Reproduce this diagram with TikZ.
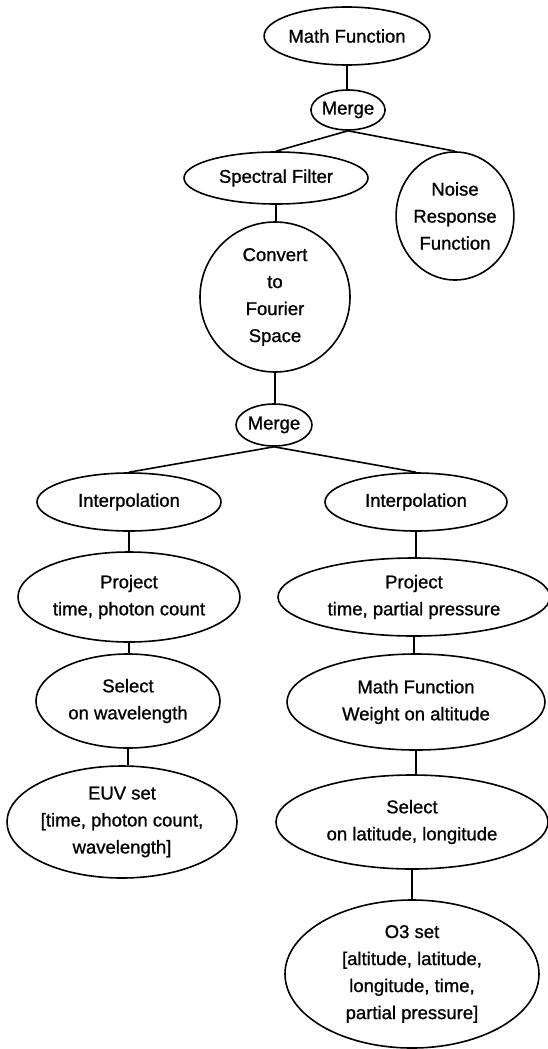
\documentclass[tikz,border=0pt]{standalone}
\usepackage{fontspec}
\setmainfont{Liberation Sans}
\newfontfamily\nodefont[FakeBold=1.0]{Liberation Sans}
\usetikzlibrary{shapes.geometric}
\begin{document}
\begin{tikzpicture}[x=1pt,y=-1pt,
  op/.style={draw, ellipse, inner sep=0pt, line width=1.6pt, align=center,
    font=\nodefont\fontsize{18.5}{27}\selectfont},
  link/.style={line width=1.6pt}]
\useasboundingbox (0,0) rectangle (547,1049);
\node[op, minimum width=164, minimum height=58] (mf1) at (347,36) {Math Function};
\node[op, minimum width=74, minimum height=40] (merge1) at (348,110) {Merge};
\node[op, minimum width=184, minimum height=52] (spec) at (276,178) {Spectral Filter};
\node[op, minimum width=112, minimum height=128] (noise) at (455,216) {Noise\\Response\\Function};
\node[op, minimum width=150, minimum height=150] (conv) at (275,297) {Convert\\to\\Fourier\\Space};
\node[op, minimum width=76, minimum height=42] (merge2) at (274,425) {Merge};
\node[op, minimum width=184, minimum height=58] (interpL) at (129,502) {Interpolation};
\node[op, minimum width=182, minimum height=58] (interpR) at (416,502) {Interpolation};
\node[op, minimum width=222, minimum height=90] (projL) at (129,597) {Project\\time, photon count};
\node[op, minimum width=272, minimum height=78] (projR) at (414,597) {Project\\time, partial pressure};
\node[op, minimum width=184, minimum height=94] (selL) at (128,701) {Select\\on wavelength};
\node[op, minimum width=258, minimum height=96] (mf2) at (416,702) {Math Function\\Weight on altitude};
\node[op, minimum width=230, minimum height=112] (euv) at (122,822) {EUV set\\{[time, photon count,}\\wavelength]};
\node[op, minimum width=272, minimum height=94] (selR) at (412,822) {Select\\on latitude, longitude};
\node[op, minimum width=254, minimum height=148] (o3) at (412,974) {O3 set\\{[altitude, latitude,}\\longitude, time,\\partial pressure]};
\draw[link] (mf1.south) -- (mf1.south |- merge1.north);
\draw[link] (merge1.south) -- (spec.north);
\draw[link] (merge1.south) -- (noise.north);
\draw[link] (spec.south) -- (spec.south |- conv.north);
\draw[link] (conv.south) -- (conv.south |- merge2.north);
\draw[link] (merge2.south) -- (interpL.north);
\draw[link] (merge2.south) -- (interpR.north);
\draw[link] (interpL.south) -- (interpL.south |- projL.north);
\draw[link] (projL.south) -- (projL.south |- selL.north);
\draw[link] (selL.south) -- (selL.south |- euv.north);
\draw[link] (interpR.south) -- (interpR.south |- projR.north);
\draw[link] (projR.south) -- (projR.south |- mf2.north);
\draw[link] (mf2.south) -- (mf2.south |- selR.north);
\draw[link] (selR.south) -- (selR.south |- o3.north);
\end{tikzpicture}
\end{document}
